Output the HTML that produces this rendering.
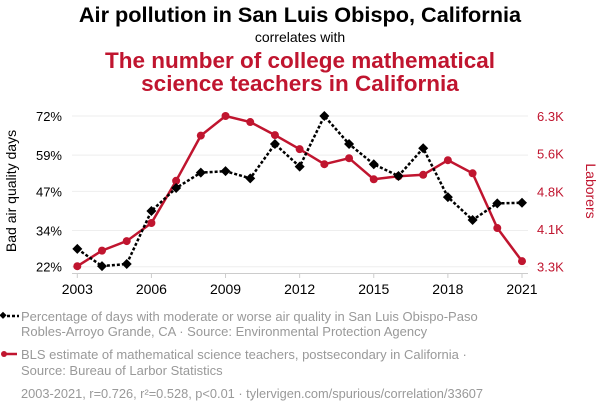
<!DOCTYPE html>
<html><head><meta charset="utf-8"><style>
body{margin:0;background:#fff;}
svg{display:block;font-family:"Liberation Sans",Arial,sans-serif;}
</style></head><body>
<svg id="c" width="600" height="414" viewBox="0 0 600 414">
<text x="300" y="22" text-anchor="middle" font-size="21.7" font-weight="bold" fill="#000">Air pollution in San Luis Obispo, California</text>
<text x="300" y="42" text-anchor="middle" font-size="14" fill="#000">correlates with</text>
<text x="300" y="68" text-anchor="middle" font-size="22.5" font-weight="bold" fill="#c0152f">The number of college mathematical</text>
<text x="300" y="91" text-anchor="middle" font-size="22.5" font-weight="bold" fill="#c0152f">science teachers in California</text>
<g id="grid"></g>
<g id="axes"></g>
<g id="series"></g>
<text transform="translate(16,191) rotate(-90)" text-anchor="middle" font-size="14" fill="#000">Bad air quality days</text>
<text transform="translate(586,191) rotate(90)" text-anchor="middle" font-size="14" fill="#c0152f">Laborers</text>
<g>
<line x1="2" y1="316" x2="19" y2="316" stroke="#000" stroke-width="2.5" stroke-dasharray="3,2"/>
<rect x="0" y="313" width="5" height="5" transform="rotate(45 3 316)" fill="#000"/>
<text x="21" y="321" font-size="13" fill="#999">Percentage of days with moderate or worse air quality in San Luis Obispo-Paso</text>
<text x="21" y="336" font-size="13" fill="#999">Robles-Arroyo Grande, CA · Source: Environmental Protection Agency</text>
</g>
<g>
<line x1="2" y1="354" x2="17" y2="354" stroke="#c0152f" stroke-width="2.5"/>
<circle cx="4" cy="354" r="3" fill="#c0152f"/>
<text x="21" y="359" font-size="13" fill="#999">BLS estimate of mathematical science teachers, postsecondary in California ·</text>
<text x="21" y="375" font-size="13" fill="#999">Source: Bureau of Larbor Statistics</text>
</g>
<text x="21" y="398" font-size="12.8" fill="#999">2003-2021, r=0.726, r²=0.528, p&lt;0.01 · tylervigen.com/spurious/correlation/33607</text>
</svg>
<script>
const years=[2003,2004,2005,2006,2007,2008,2009,2010,2011,2012,2013,2014,2015,2016,2017,2018,2019,2020,2021];
const airValues=[27.9,22.2,22.9,40.5,48.1,53.2,53.7,51.3,62.7,55.2,72,62.7,56,52.1,61.3,45.1,37.5,43,43.2];
const teacherValues=[3.31,3.62,3.81,4.17,5.01,5.91,6.3,6.18,5.92,5.64,5.34,5.46,5.04,5.1,5.13,5.42,5.16,4.07,3.41];
const leftTicks=[22,34,47,59,72];
const leftTickLabels=["22%","34%","47%","59%","72%"];
const rightTicks=[3.3,4.05,4.8,5.55,6.3];
const rightTickLabels=["3.3K","4.1K","4.8K","5.6K","6.3K"];
const xTicks=[2003,2006,2009,2012,2015,2018,2021];

const NS="http://www.w3.org/2000/svg";
const X0=77.3,X1=522,Y0=266.7,Y1=116;
const xs=y=>X0+(y-2003)/(2021-2003)*(X1-X0);
const yl=v=>Y0-(v-22)/(72-22)*(Y0-Y1);
const yr=v=>Y0-(v-3.3)/(6.3-3.3)*(Y0-Y1);
function mk(tag,attrs,parent){const e=document.createElementNS(NS,tag);for(const k in attrs)e.setAttribute(k,attrs[k]);parent.appendChild(e);return e;}
const grid=document.getElementById('grid'),axes=document.getElementById('axes'),ser=document.getElementById('series');
leftTicks.forEach((t,i)=>{
  const g=mk('line',{x1:72,x2:528,y1:yl(t),y2:yl(t),stroke:'#eee','stroke-width':1},grid);
  
  
  const tl=mk('text',{x:62,y:yl(t)+5,'text-anchor':'end','font-size':13,fill:'#000'},axes);
  tl.textContent=leftTickLabels[i];
  
  
});
rightTicks.forEach((t,i)=>{
  const tl=mk('text',{x:537,y:yr(t)+5,'font-size':13,fill:'#c0152f'},axes);
  tl.textContent=rightTickLabels[i];
  
  
});
const ax=mk('line',{x1:72,x2:528,y1:273.5,y2:273.5,stroke:'#ccc','stroke-width':1},axes);


xTicks.forEach(t=>{
  mk('line',{x1:xs(t),x2:xs(t),y1:273,y2:278,stroke:'#ccc'},axes);
  const tl=mk('text',{x:xs(t),y:294,'text-anchor':'middle','font-size':14,fill:'#000'},axes);
  tl.textContent=t;
  
  
});
const rp=mk('polyline',{points:years.map((y,i)=>xs(y)+','+yr(teacherValues[i])).join(' '),fill:'none',stroke:'#c0152f','stroke-width':2.5},ser);


const bp=mk('polyline',{points:years.map((y,i)=>xs(y)+','+yl(airValues[i])).join(' '),fill:'none',stroke:'#000','stroke-width':2.5,'stroke-dasharray':'3,2'},ser);


years.forEach((y,i)=>{
  const c=mk('circle',{cx:xs(y),cy:yr(teacherValues[i]),r:4,fill:'#c0152f'},ser);
  
  
  const cx=xs(y),cy=yl(airValues[i]);
  const d=mk('polygon',{points:`${cx},${cy-5} ${cx+5},${cy} ${cx},${cy+5} ${cx-5},${cy}`,fill:'#000'},ser);
  
  
});
</script>
</body></html>
